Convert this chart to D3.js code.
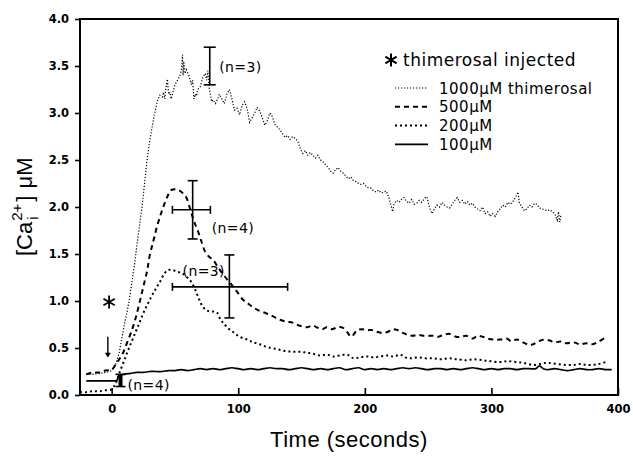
<!DOCTYPE html>
<html><head><meta charset="utf-8">
<script src="https://cdn.jsdelivr.net/npm/d3@7"></script>
<style>body{margin:0;background:#fff}svg{display:block}</style>
</head><body>
<svg id="c" width="633" height="456"></svg>
<script>
// ---------- data ----------
const xTicks = [0, 100, 200, 300, 400];
const yTicks = [0, 0.5, 1, 1.5, 2, 2.5, 3, 3.5, 4];
const legendLabels = ["1000\u03bcM thimerosal", "500\u03bcM", "200\u03bcM", "100\u03bcM"];

const s1000 = [[-20,0.22],[-15,0.22],[-10,0.23],[-5,0.24],[0,0.26],[3,0.32],[6,0.45],[8,0.6],[10,0.75],[12,0.87],[14,1.02],[16,1.2],[18,1.38],[20,1.6],[22,1.8],[24,2.0],[26,2.25],[28,2.5],[30,2.7],[32,2.85],[34,3.0],[36,3.12],[38,3.19],[40,3.17],[41,3.22],[42,3.15],[43,3.28],[44,3.36],[45,3.2],[46,3.22],[47,3.15],[48,3.2],[50,3.3],[52,3.35],[54,3.4],[55,3.45],[56,3.62],[56.5,3.4],[57,3.55],[58,3.42],[59,3.46],[61,3.4],[63,3.3],[64,3.35],[65,3.15],[66,3.2],[67,3.18],[68,3.25],[70,3.28],[72,3.38],[74,3.42],[75,3.35],[76,3.45],[77,3.27],[79,3.12],[80,3.14],[82,3.1],[84,3.16],[85,3.2],[87,3.15],[89,3.1],[91,3.2],[93,3.25],[95,3.15],[97,3.03],[99,3.05],[101,2.98],[103,3.08],[105,3.12],[107,3.05],[109,2.9],[111,2.95],[113,3.0],[115,3.06],[117,3.02],[119,2.95],[121,2.87],[123,2.92],[125,3.0],[127,2.96],[129,2.88],[131,2.85],[133,2.82],[135,2.78],[137,2.74],[139,2.76],[141,2.72],[143,2.75],[145,2.73],[147,2.7],[149,2.62],[151,2.57],[153,2.6],[155,2.55],[157,2.58],[159,2.55],[161,2.52],[163,2.55],[165,2.5],[167,2.48],[169,2.45],[171,2.42],[173,2.38],[175,2.36],[177,2.4],[179,2.42],[181,2.38],[183,2.36],[185,2.33],[187,2.3],[189,2.32],[191,2.28],[193,2.27],[195,2.25],[197,2.24],[199,2.25],[201,2.22],[203,2.2],[205,2.2],[207,2.17],[209,2.16],[211,2.18],[213,2.15],[215,2.16],[217,2.17],[219,2.1],[221,2.0],[222,1.95],[223,2.03],[225,2.07],[227,2.05],[229,2.08],[231,2.1],[233,2.06],[235,2.04],[237,2.08],[239,2.03],[241,2.04],[243,2.07],[245,2.05],[247,2.09],[249,2.11],[251,2.0],[253,1.93],[255,1.98],[257,2.02],[259,2.0],[261,2.05],[263,2.02],[265,2.0],[267,1.99],[269,2.03],[271,2.07],[273,2.1],[275,2.05],[277,2.07],[279,2.03],[281,2.06],[283,2.02],[285,2.04],[287,2.0],[289,1.98],[291,1.96],[293,2.0],[295,1.93],[297,1.95],[299,1.9],[301,1.93],[303,1.9],[305,1.95],[307,1.98],[309,2.02],[311,2.0],[313,2.05],[315,2.03],[317,2.06],[319,2.1],[321,2.16],[322,2.05],[324,2.0],[326,1.96],[328,1.98],[330,2.02],[332,2.0],[334,2.04],[336,2.03],[338,1.99],[340,1.98],[342,1.97],[344,1.96],[346,1.97],[348,1.95],[350,1.93],[352,1.86],[353,1.95],[354,1.84],[355,1.92]];

const s500 = [[-20,0.22],[-15,0.24],[-10,0.24],[-5,0.26],[0,0.27],[3,0.32],[6,0.38],[9,0.45],[12,0.55],[16,0.69],[19,0.82],[22,0.98],[25,1.15],[28,1.32],[30,1.48],[33,1.64],[36,1.8],[40,1.97],[44,2.11],[47,2.18],[50,2.19],[53,2.18],[56,2.15],[59,2.1],[62,1.98],[65,1.85],[68,1.75],[71,1.63],[74,1.52],[77,1.47],[80,1.44],[83,1.38],[86,1.32],[90,1.25],[95,1.17],[99,1.1],[104,1.01],[108,0.97],[111,0.94],[116,0.9],[122,0.87],[127,0.84],[133,0.8],[138,0.78],[143,0.77],[148,0.74],[154,0.72],[159,0.74],[162,0.72],[166,0.7],[170,0.72],[174,0.7],[178,0.72],[182,0.72],[186,0.67],[189,0.62],[191,0.64],[194,0.69],[198,0.7],[202,0.69],[206,0.69],[210,0.67],[214,0.66],[218,0.67],[222,0.7],[226,0.69],[230,0.66],[234,0.64],[238,0.63],[242,0.64],[246,0.63],[250,0.63],[254,0.63],[258,0.62],[262,0.64],[267,0.65],[272,0.62],[276,0.62],[280,0.63],[285,0.6],[289,0.63],[293,0.62],[297,0.6],[302,0.59],[307,0.59],[312,0.6],[316,0.57],[320,0.59],[325,0.56],[330,0.53],[333,0.54],[337,0.57],[342,0.59],[346,0.58],[350,0.56],[355,0.57],[359,0.55],[365,0.56],[370,0.54],[375,0.55],[380,0.54],[385,0.57],[390,0.61]];

const s200 = [[-25,0.03],[-20,0.03],[-15,0.04],[-10,0.04],[-5,0.05],[0,0.06],[3,0.12],[6,0.23],[10,0.37],[14,0.51],[18,0.64],[22,0.77],[26,0.9],[30,1.01],[34,1.11],[38,1.2],[42,1.3],[45,1.33],[48,1.33],[52,1.31],[55,1.3],[59,1.26],[63,1.2],[66,1.12],[69,1.02],[72,0.94],[75,0.9],[79,0.89],[83,0.88],[86,0.8],[88,0.77],[92,0.71],[96,0.67],[101,0.62],[107,0.59],[112,0.56],[117,0.54],[123,0.51],[130,0.49],[136,0.47],[143,0.46],[149,0.46],[154,0.45],[159,0.44],[165,0.42],[170,0.43],[175,0.41],[180,0.42],[186,0.43],[191,0.39],[196,0.4],[202,0.41],[207,0.4],[212,0.41],[218,0.42],[223,0.41],[228,0.43],[232,0.4],[236,0.39],[242,0.4],[248,0.39],[254,0.39],[260,0.38],[267,0.39],[273,0.38],[280,0.37],[286,0.38],[293,0.37],[299,0.36],[307,0.35],[313,0.36],[320,0.35],[326,0.34],[333,0.32],[338,0.33],[342,0.34],[346,0.34],[352,0.33],[359,0.32],[365,0.32],[370,0.33],[375,0.32],[380,0.32],[385,0.33],[390,0.35]];

const s100 = [[-20,0.15],[-10,0.15],[0,0.15],[4,0.155],[6,0.21],[10,0.22],[15,0.23],[20,0.24],[25,0.24],[30,0.25],[35,0.25],[40,0.25],[45,0.26],[50,0.26],[55,0.27],[60,0.26],[65,0.27],[70,0.28],[75,0.27],[80,0.28],[85,0.27],[90,0.28],[95,0.29],[100,0.28],[105,0.27],[110,0.28],[115,0.27],[120,0.28],[125,0.29],[130,0.28],[135,0.28],[140,0.27],[145,0.28],[150,0.29],[155,0.28],[160,0.27],[165,0.28],[170,0.27],[175,0.28],[180,0.29],[185,0.27],[190,0.28],[195,0.29],[200,0.27],[205,0.28],[210,0.27],[215,0.28],[220,0.27],[225,0.28],[230,0.29],[235,0.28],[240,0.29],[245,0.28],[250,0.27],[255,0.28],[260,0.28],[265,0.27],[270,0.28],[275,0.27],[280,0.28],[285,0.29],[290,0.28],[295,0.27],[300,0.28],[305,0.27],[310,0.28],[315,0.28],[320,0.27],[325,0.28],[330,0.28],[335,0.28],[338,0.31],[341,0.28],[345,0.27],[350,0.28],[355,0.27],[360,0.26],[365,0.27],[370,0.28],[375,0.27],[380,0.27],[385,0.28],[390,0.27],[395,0.27]];

// error bars: time, value, vertical low/high, horizontal low/high
const errT    = [77.5, 64, 93, 7];
const errV    = [3.5, 1.97, 1.15, 0.15];
const errLo   = [3.3, 1.66, 0.82, 0.09];
const errHi   = [3.7, 2.28, 1.49, 0.22];
const errTLo  = [null, 48, 48, null];
const errTHi  = [null, 78, 139, null];
const nLabels = ["(n=3)", "(n=4)", "(n=3)", "(n=4)"];
const nLabelT = [85, 79, 56, 12.5];
const nLabelV = [3.44, 1.72, 1.27, 0.05];

// ---------- drawing ----------
const svg = d3.select("#c");
const x = d3.scaleLinear().domain([-25, 400]).range([80, 618]);
const y = d3.scaleLinear().domain([0, 4]).range([395, 19]);

const line = d3.line().x(d => x(d[0])).y(d => y(d[1]));
const smooth = d3.line().x(d => x(d[0])).y(d => y(d[1])).curve(d3.curveCatmullRom);

const styles = [
  {data: s1000, dash: "1.2 1.8", w: 1.2, gen: line},
  {data: s500,  dash: "5 4",     w: 2.0, gen: smooth},
  {data: s200,  dash: "2 3",     w: 2.0, gen: smooth},
  {data: s100,  dash: null,      w: 1.7, gen: smooth}
];
styles.forEach(s => {
  svg.append("path").attr("d", s.gen(s.data)).attr("fill", "none")
    .attr("stroke", "#000").attr("stroke-width", s.w)
    .attr("stroke-dasharray", s.dash);
});

// axes
const yAxis = d3.axisLeft(y).tickValues(yTicks).tickFormat(d3.format(".1f")).tickSize(5).tickPadding(6);
const gy = svg.append("g").attr("transform", "translate(80,0)").call(yAxis);
const xAxis = d3.axisBottom(x).tickValues(xTicks).tickFormat(d3.format("d")).tickSizeInner(-7).tickSizeOuter(0).tickPadding(10);
const gx = svg.append("g").attr("transform", "translate(0,395)").call(xAxis);
[gx, gy].forEach(g => {
  g.select(".domain").remove();
  g.selectAll("line").attr("stroke", "#000").attr("stroke-width", 1.6);
  g.selectAll("text").attr("font-family", "DejaVu Sans").attr("font-weight", "bold")
    .attr("font-size", 11.5).attr("fill", "#000");
});

// frame
svg.append("rect").attr("x", 80).attr("y", 19).attr("width", 538).attr("height", 376)
  .attr("fill", "none").attr("stroke", "#000").attr("stroke-width", 2);

// error bars
errT.forEach((t, i) => {
  const cx = x(t), cap = i === 0 ? 6 : 5;
  svg.append("line").attr("x1", cx).attr("x2", cx).attr("y1", y(errLo[i])).attr("y2", y(errHi[i]))
    .attr("stroke", "#000").attr("stroke-width", i === 3 ? 4 : 1.6);
  [errLo[i], errHi[i]].forEach(v => svg.append("line").attr("x1", cx - cap).attr("x2", cx + cap)
    .attr("y1", y(v)).attr("y2", y(v)).attr("stroke", "#000").attr("stroke-width", 1.6));
  if (errTLo[i] != null) {
    svg.append("line").attr("x1", x(errTLo[i])).attr("x2", x(errTHi[i]))
      .attr("y1", y(errV[i])).attr("y2", y(errV[i])).attr("stroke", "#000").attr("stroke-width", 1.6);
    [errTLo[i], errTHi[i]].forEach(tt => svg.append("line").attr("x1", x(tt)).attr("x2", x(tt))
      .attr("y1", y(errV[i]) - 4).attr("y2", y(errV[i]) + 4).attr("stroke", "#000").attr("stroke-width", 1.6));
  }
  svg.append("text").attr("x", x(nLabelT[i])).attr("y", y(nLabelV[i]))
    .attr("font-family", "DejaVu Sans").attr("font-size", 14).attr("letter-spacing", 0.4)
    .text(nLabels[i]);
});

// injection marker: asterisk and arrow
svg.append("path").attr("d", d3.symbol(d3.symbolAsterisk, 120)())
  .attr("transform", `translate(${x(-2)},${y(0.99)})`).attr("stroke", "#000").attr("stroke-width", 1.8).attr("fill", "none");
svg.append("line").attr("x1", x(-3)).attr("x2", x(-3)).attr("y1", y(0.62)).attr("y2", y(0.43))
  .attr("stroke", "#000").attr("stroke-width", 1.4);
svg.append("path").attr("d", `M${x(-3) - 3},${y(0.45)} L${x(-3) + 3},${y(0.45)} L${x(-3)},${y(0.40)} Z`).attr("fill", "#000");

// legend
svg.append("path").attr("d", d3.symbol(d3.symbolAsterisk, 120)())
  .attr("transform", "translate(391,60)").attr("stroke", "#000").attr("stroke-width", 2).attr("fill", "none");
svg.append("text").attr("x", 403).attr("y", 66).attr("font-family", "DejaVu Sans")
  .attr("font-size", 17).attr("letter-spacing", 0.5).text("thimerosal injected");
legendLabels.forEach((lab, i) => {
  const ly = 88 + i * 18.8;
  svg.append("line").attr("x1", 395).attr("x2", 428).attr("y1", ly).attr("y2", ly)
    .attr("stroke", "#000").attr("stroke-width", styles[i].w).attr("stroke-dasharray", styles[i].dash);
  svg.append("text").attr("x", 439).attr("y", ly + 5.5).attr("font-family", "DejaVu Sans")
    .attr("font-size", 15).attr("letter-spacing", 0.5).text(lab);
});

// axis titles
svg.append("text").attr("x", 349).attr("y", 447).attr("text-anchor", "middle")
  .attr("font-family", "Liberation Sans").attr("font-size", 22).attr("letter-spacing", 0.5)
  .text("Time (seconds)");

const yl = svg.append("g").attr("transform", "translate(32,256) rotate(-90)")
  .attr("font-family", "Liberation Sans");
const t1 = yl.append("text").attr("x", 0).attr("y", 0).attr("font-size", 22).text("[Ca");
const w1 = t1.node().getComputedTextLength();
const sup = yl.append("text").attr("x", w1 + 1).attr("y", -10).attr("font-size", 15).text("2+");
yl.append("text").attr("x", w1 + 2).attr("y", 6).attr("font-size", 15).text("i");
const w2 = sup.node().getComputedTextLength();
const t3 = yl.append("text").attr("x", w1 + w2 + 3).attr("y", 0).attr("font-size", 22).text("]");
const w3 = t3.node().getComputedTextLength();
yl.append("text").attr("x", w1 + w2 + w3 + 10).attr("y", 0).attr("font-size", 22).text("\u03bcM");
</script>
</body></html>
